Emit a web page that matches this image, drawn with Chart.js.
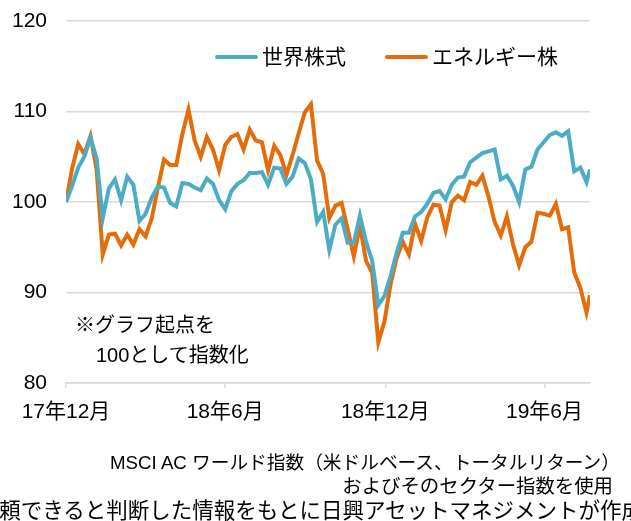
<!DOCTYPE html>
<html lang="ja">
<head>
<meta charset="utf-8">
<title>世界株式とエネルギー株</title>
<script src="https://cdn.jsdelivr.net/npm/chart.js@4.4.1/dist/chart.umd.min.js"></script>
<style>
  html, body { margin: 0; padding: 0; background: #fff; overflow: hidden; }
  #wrap { position: relative; width: 631px; height: 521px; overflow: hidden; }
  #chart { position: absolute; left: 0; top: 0; }
  .note { position: absolute; white-space: nowrap; color: #000;
          font-family: "Liberation Sans", "Noto Sans CJK JP", sans-serif; line-height: 1; }
</style>
</head>
<body>
<div id="wrap">
  <canvas id="chart" width="631" height="521"></canvas>
  <div class="note" style="left:75px; top:315px; font-size:20px;">※グラフ起点を</div>
  <div class="note" style="left:96px; top:345px; font-size:20px;">100として指数化</div>
  <div class="note" style="right:11px; top:454px; font-size:18.7px;">MSCI AC ワールド指数（米ドルベース、トータルリターン）</div>
  <div class="note" style="right:18px; top:477px; font-size:19.4px;">およびそのセクター指数を使用</div>
  <div class="note" style="right:-12px; top:501px; font-size:21.5px;">信頼できると判断した情報をもとに日興アセットマネジメントが作成</div>
</div>
<script>
// Weekly index values, start of series = 100
const worldStocks = [
    100, 101.8, 103.8, 105, 107.1, 104.8, 98.2, 101.5, 102.5, 100.2,
    102.8, 101.9, 97.9, 98.7, 100.5, 101.7, 101.6, 99.9, 99.5, 102.1,
    102, 101.6, 101.3, 102.6, 102, 100.2, 99.2, 101.2, 102, 102.4,
    103.2, 103.2, 103.3, 101.9, 103.8, 103.7, 102, 102.8, 104.8, 104.3,
    102.5, 97.8, 98.9, 94.7, 97.5, 98.2, 95.5, 95.5, 98.5, 95.6,
    93.5, 88.6, 89.6, 91.8, 94.4, 96.6, 96.6, 98.4, 98.9, 99.8,
    101.0, 101.2, 100.3, 101.9, 102.7, 102.8, 104.4, 104.9, 105.4, 105.6,
    105.8, 102.5, 102.9, 101.8, 100, 103.6, 103.9, 105.8, 106.6, 107.4,
    107.7, 107.3, 107.8, 103.4, 103.8, 102.2, 103.6
];
const energyStocks = [
    100, 103.7, 106.4, 105.3, 107.3, 103.6, 94.2, 96.4, 96.5, 95.2,
    96.4, 95.3, 97.0, 96.2, 98.2, 101.6, 104.7, 104.1, 104.1, 107.5,
    110.2, 106.8, 105, 107.2, 105.8, 103.5, 106.3, 107.2, 107.5, 105.8,
    108, 106.8, 106.6, 103.5, 106.2, 105.2, 103, 105.2, 107.6, 109.9,
    110.8, 104.6, 103.1, 98.2, 99.6, 99.9, 97.0, 94, 97.4, 93.5,
    92.2, 84.5, 86.8, 90.9, 93.8, 95.6, 94.2, 97.6, 95.7, 98.3,
    99.7, 99.6, 96.9, 100, 100.7, 100.2, 102.2, 101.9, 102.9, 100.6,
    97.8, 96.3, 98.4, 95.3, 93, 95, 95.6, 98.8, 98.7, 98.5,
    99.8, 97, 97.2, 92.2, 90.5, 87.8, 89.7
];
// days since 2017-12-01 (weekly, last point is the final day)
const days = worldStocks.map((_, i) => i < 86 ? i * 7 : 599);

const tickDays = [0, 182, 365, 547];
const tickLabels = ['17年12月', '18年6月', '18年12月', '19年6月'];
const seriesNames = ['世界株式', 'エネルギー株'];
const seriesColors = ['#4bacc6', '#e46c0a'];

const FONT = '"Liberation Sans", "Noto Sans CJK JP", sans-serif';

function toPoints(values) {
    return values.map((v, i) => ({ x: days[i], y: v }));
}

// Legend drawn inside the plot area
const insideLegend = {
    id: 'insideLegend',
    afterDraw(chart) {
        const ctx = chart.ctx;
        const spots = [{ x: 217, textX: 262 }, { x: 387, textX: 432 }];
        const y = 57;
        ctx.save();
        ctx.font = '21px ' + FONT;
        ctx.textBaseline = 'middle';
        chart.data.datasets.forEach((ds, i) => {
            ctx.strokeStyle = ds.borderColor;
            ctx.lineWidth = 4;
            ctx.lineCap = 'round';
            ctx.beginPath();
            ctx.moveTo(spots[i].x, y);
            ctx.lineTo(spots[i].x + 39, y);
            ctx.stroke();
            ctx.fillStyle = '#000';
            ctx.fillText(ds.label, spots[i].textX, y + 1);
        });
        ctx.restore();
    }
};

new Chart(document.getElementById('chart'), {
    type: 'line',
    data: {
        datasets: [
            {
                label: seriesNames[0],
                data: toPoints(worldStocks),
                borderColor: seriesColors[0],
                borderWidth: 4,
                pointRadius: 0,
                tension: 0,
                fill: false
            },
            {
                label: seriesNames[1],
                data: toPoints(energyStocks),
                borderColor: seriesColors[1],
                borderWidth: 4,
                pointRadius: 0,
                tension: 0,
                fill: false
            }
        ]
    },
    options: {
        responsive: false,
        animation: false,
        layout: { padding: { left: 0, right: 41, top: 21, bottom: 98 } },
        plugins: {
            legend: { display: false },
            tooltip: { enabled: false }
        },
        scales: {
            x: {
                type: 'linear',
                min: 0,
                max: 599,
                afterBuildTicks: axis => {
                    axis.ticks = tickDays.map(v => ({ value: v }));
                },
                afterFit: axis => {
                    axis.height = 40;
                    axis.paddingLeft = 0;
                    axis.paddingRight = 0;
                },
                grid: {
                    drawOnChartArea: false,
                    drawTicks: true,
                    tickLength: 5,
                    color: '#d9d9d9',
                    lineWidth: 1.5
                },
                border: { display: true, color: '#d9d9d9', width: 1.5 },
                ticks: {
                    autoSkip: false,
                    maxRotation: 0,
                    padding: 12,
                    color: '#000',
                    font: { family: FONT, size: 21 },
                    callback: value => tickLabels[tickDays.indexOf(value)]
                }
            },
            y: {
                min: 80,
                max: 120,
                afterFit: axis => {
                    axis.width = 66;
                    axis.paddingTop = 0;
                    axis.paddingBottom = 0;
                },
                grid: { color: '#d9d9d9', lineWidth: 1.5, drawTicks: false },
                border: { display: false },
                ticks: {
                    stepSize: 10,
                    padding: 19,
                    color: '#000',
                    font: { family: FONT, size: 21 }
                }
            }
        }
    },
    plugins: [insideLegend]
});
</script>
</body>
</html>
